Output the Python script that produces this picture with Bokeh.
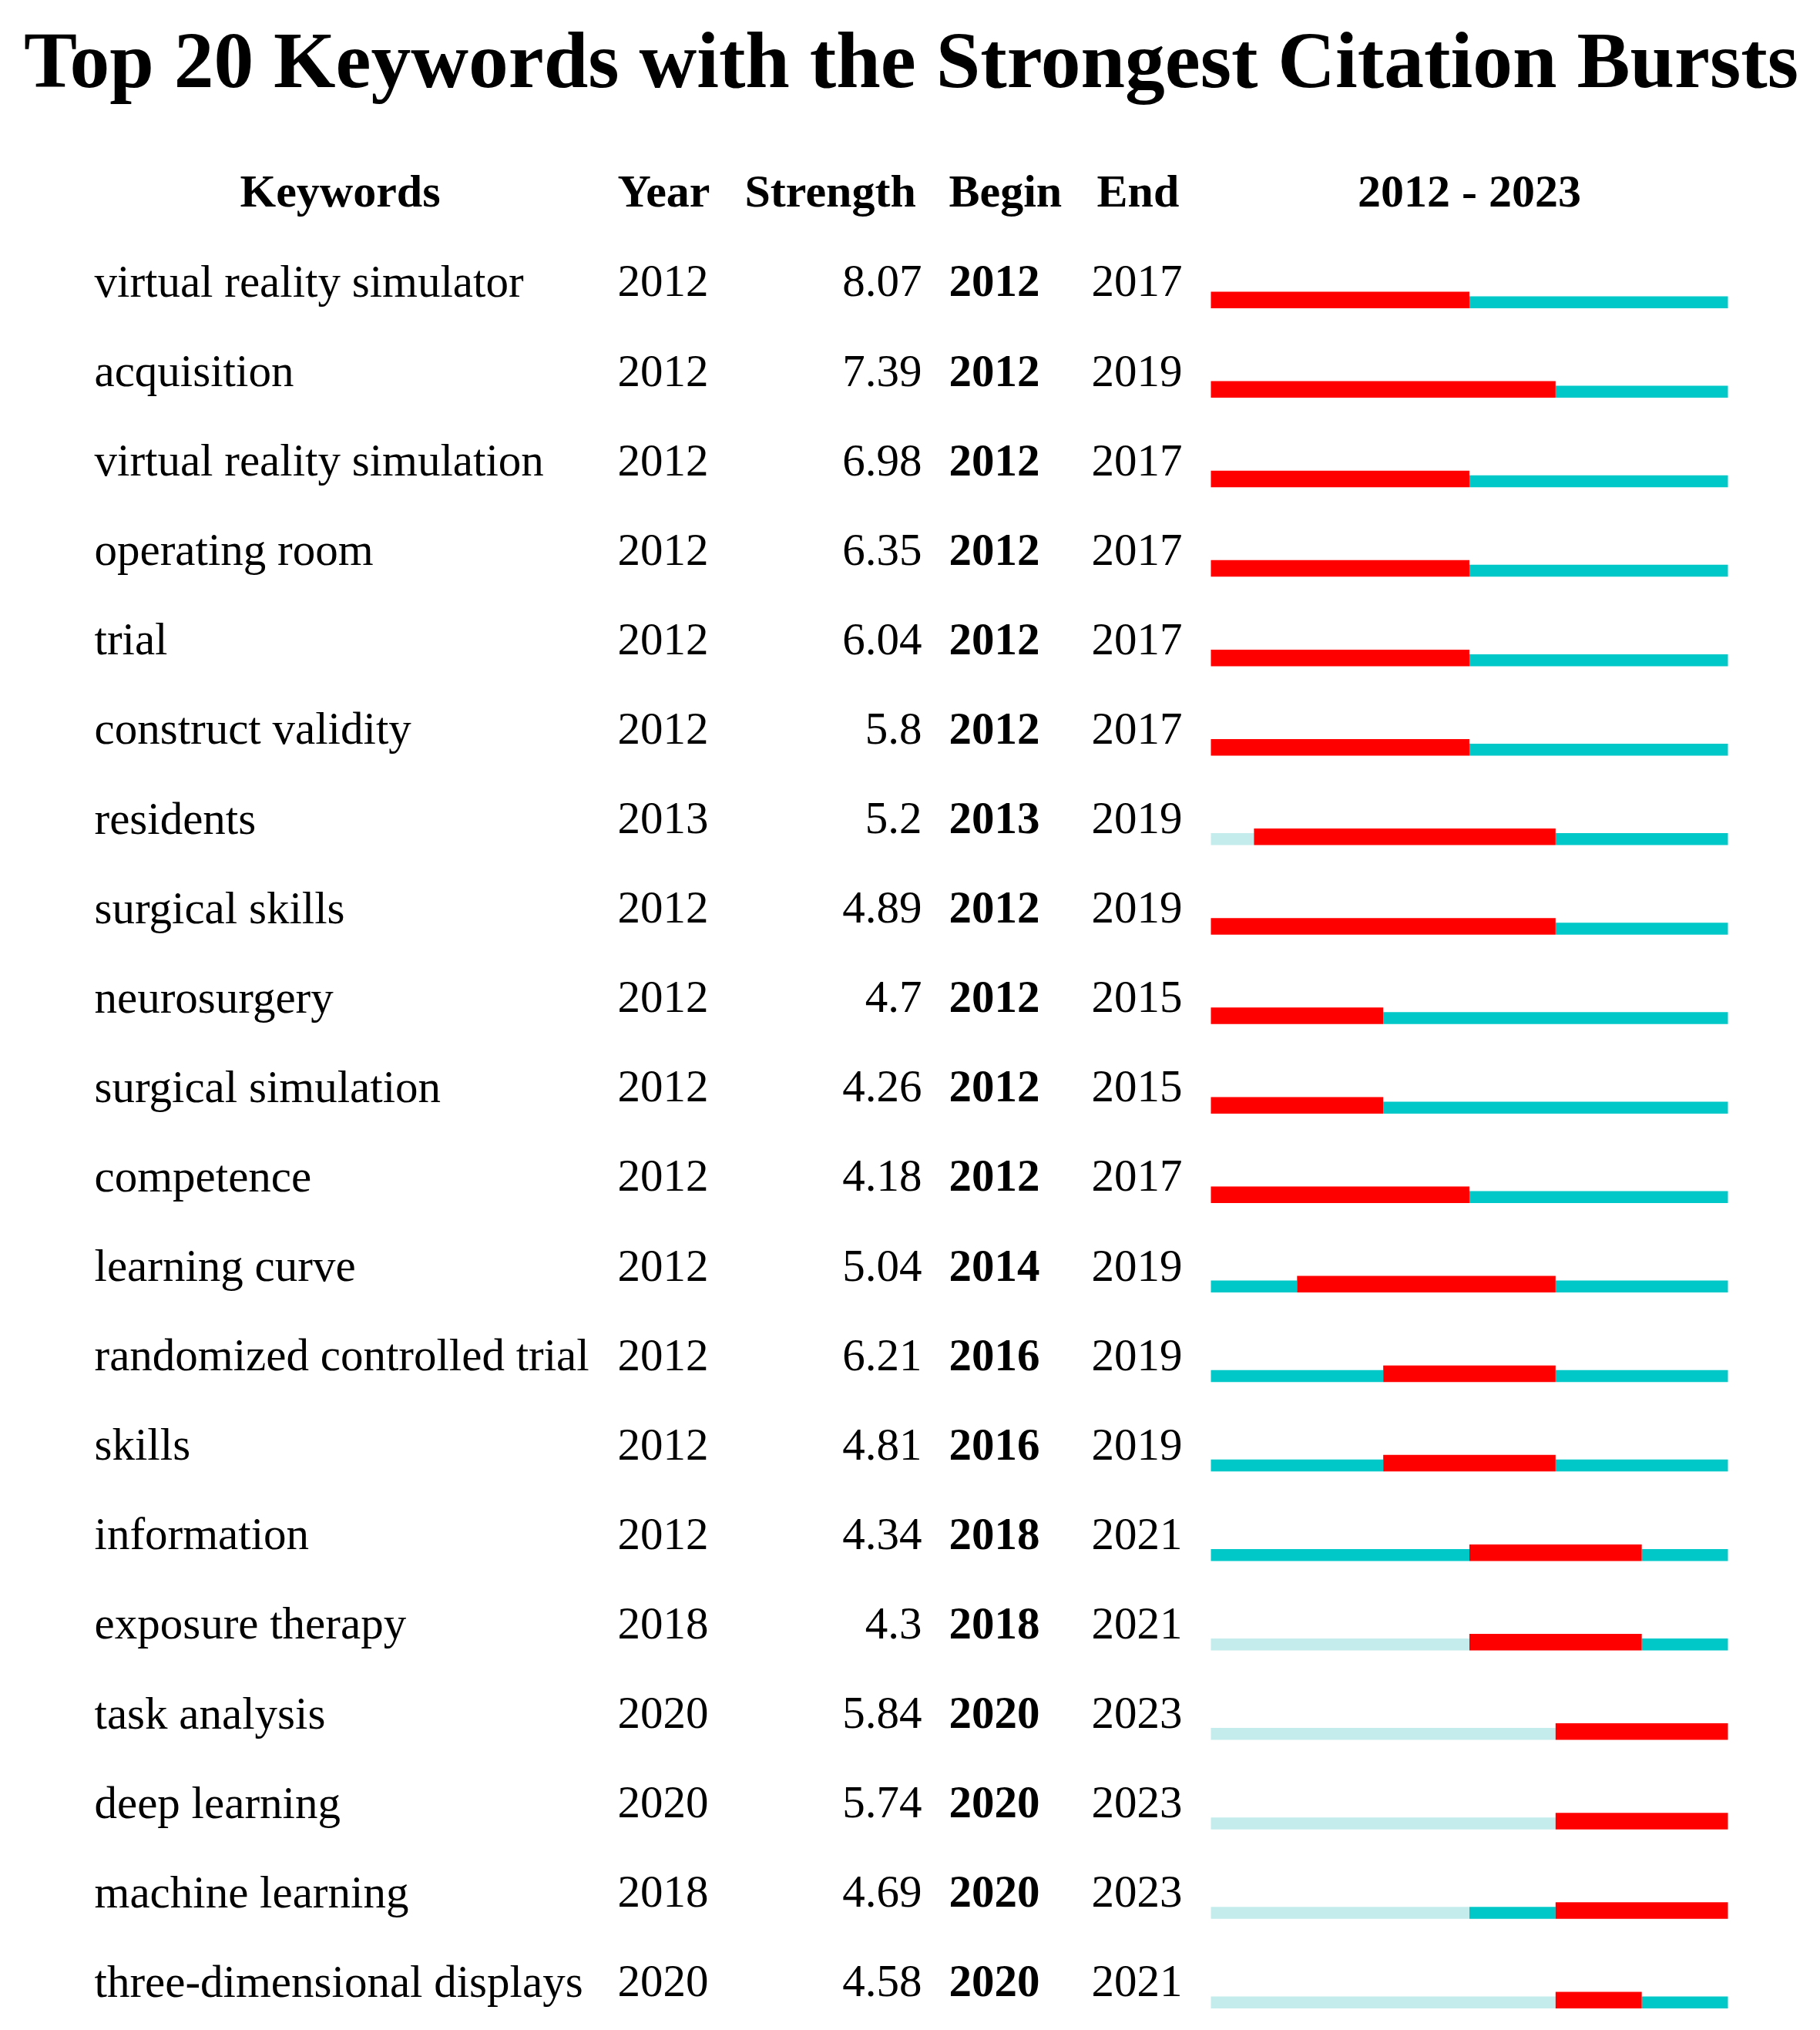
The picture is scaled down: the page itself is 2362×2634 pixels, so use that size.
from bokeh.plotting import figure
from bokeh.models import Range1d, ColumnDataSource
from bokeh.core.properties import value
from bokeh.embed import file_html
from bokeh.resources import INLINE

title_text = "Top 20 Keywords with the Strongest Citation Bursts"
headers = ["Keywords", "Year", "Strength", "Begin", "End", "2012 - 2023"]

keywords = [
    "virtual reality simulator", "acquisition", "virtual reality simulation",
    "operating room", "trial", "construct validity", "residents",
    "surgical skills", "neurosurgery", "surgical simulation", "competence",
    "learning curve", "randomized controlled trial", "skills", "information",
    "exposure therapy", "task analysis", "deep learning", "machine learning",
    "three-dimensional displays",
]
years = [2012, 2012, 2012, 2012, 2012, 2012, 2013, 2012, 2012, 2012,
         2012, 2012, 2012, 2012, 2012, 2018, 2020, 2020, 2018, 2020]
strength = [8.07, 7.39, 6.98, 6.35, 6.04, 5.8, 5.2, 4.89, 4.7, 4.26,
            4.18, 5.04, 6.21, 4.81, 4.34, 4.3, 5.84, 5.74, 4.69, 4.58]
begin = [2012, 2012, 2012, 2012, 2012, 2012, 2013, 2012, 2012, 2012,
         2012, 2014, 2016, 2016, 2018, 2018, 2020, 2020, 2020, 2020]
end = [2017, 2019, 2017, 2017, 2017, 2017, 2019, 2019, 2015, 2015,
       2017, 2019, 2019, 2019, 2021, 2021, 2023, 2023, 2023, 2021]
range_start, range_end = 2012, 2023

# ---- layout constants (pixel space of the picture) ----
W, H = 2346, 2618
ROW0_PX, ROW_PX = 386.0, 116.1   # baseline of first row, row spacing
BAR_X0, BAR_X1 = 1571.0, 2242.0  # pixel extent of the bar area
SHIFT = 0.365                    # anchor sits this many em above the baseline

def row_of(px):
    return (px - ROW0_PX) / ROW_PX

p = figure(width=W, height=H, output_backend="svg", toolbar_location=None,
           x_range=Range1d(0, W),
           y_range=Range1d(row_of(H), row_of(0)),
           min_border=0)
p.axis.visible = False
p.grid.visible = False
p.outline_line_color = None
p.background_fill_color = "white"
p.border_fill_color = "white"

span_years = (range_end + 1) - range_start
px_per_year = (BAR_X1 - BAR_X0) / span_years
yr_lo = range_start - BAR_X0 / px_per_year
yr_hi = (range_end + 1) + (W - BAR_X1) / px_per_year
p.extra_x_ranges = {"yr": Range1d(yr_lo, yr_hi)}

FONT = value("Liberation Serif")
TITLE_FS, HDR_FS, BODY_FS = 103.5, 60, 59

# title (baseline at px 115)
p.text(x=[1182], y=[row_of(115 - SHIFT * TITLE_FS)], text=[title_text], text_font=FONT,
       text_font_size=value(f"{TITLE_FS}px"), text_font_style="bold",
       text_align="center", text_baseline="alphabetic", text_color="black")

# headers (baseline at px 269)
hy = row_of(269 - SHIFT * HDR_FS)
hdr_x = [441, 801, 966, 1231, 1423, (BAR_X0 + BAR_X1) / 2]
hdr_align = ["center", "left", "left", "left", "left", "center"]
hsrc = ColumnDataSource(dict(x=hdr_x, y=[hy] * len(headers), t=headers, a=hdr_align))
p.text(x="x", y="y", text="t", text_align="a", source=hsrc, text_font=FONT,
       text_font_size=value(f"{HDR_FS}px"), text_font_style="bold",
       text_baseline="alphabetic", text_color="black")

# table cells
rows = list(range(len(keywords)))
off = -SHIFT * BODY_FS / ROW_PX
col_x = [122, 801, 1196, 1231, 1416]
col_align = ["left", "left", "right", "left", "left"]
col_style = ["normal", "normal", "normal", "bold", "normal"]
columns = [keywords, [str(v) for v in years], [str(v) for v in strength],
           [str(v) for v in begin], [str(v) for v in end]]
cx, cy, ct, ca, cs = [], [], [], [], []
for c, col in enumerate(columns):
    for r in rows:
        cx.append(col_x[c]); cy.append(r + off); ct.append(col[r])
        ca.append(col_align[c]); cs.append(col_style[c])
csrc = ColumnDataSource(dict(x=cx, y=cy, t=ct, a=ca, s=cs))
p.text(x="x", y="y", text="t", text_align="a", text_font_style="s", source=csrc,
       text_font=FONT, text_font_size=value(f"{BODY_FS}px"),
       text_baseline="alphabetic", text_color="black")

# bars
RED_TOP, RED_BOT = -8 / ROW_PX, 13.5 / ROW_PX
CY_TOP, CY_BOT = -2 / ROW_PX, 13.5 / ROW_PX
light, cyan, red = dict(l=[], r=[], y=[]), dict(l=[], r=[], y=[]), dict(l=[], r=[], y=[])
for i in rows:
    if years[i] > range_start:
        light["l"].append(range_start); light["r"].append(years[i]); light["y"].append(i)
    if begin[i] > years[i]:
        cyan["l"].append(max(years[i], range_start)); cyan["r"].append(begin[i]); cyan["y"].append(i)
    red["l"].append(begin[i]); red["r"].append(end[i] + 1); red["y"].append(i)
    if end[i] + 1 < range_end + 1:
        cyan["l"].append(end[i] + 1); cyan["r"].append(range_end + 1); cyan["y"].append(i)

def draw(d, top, bot, color):
    p.quad(left=d["l"], right=d["r"],
           top=[y + top for y in d["y"]], bottom=[y + bot for y in d["y"]],
           fill_color=color, line_color=None, x_range_name="yr")

draw(light, CY_TOP, CY_BOT, "#C4ECEC")
draw(cyan, CY_TOP, CY_BOT, "#00C8C8")
draw(red, RED_TOP, RED_BOT, "#FF0000")

open("out.html", "w").write(file_html(p, INLINE))
